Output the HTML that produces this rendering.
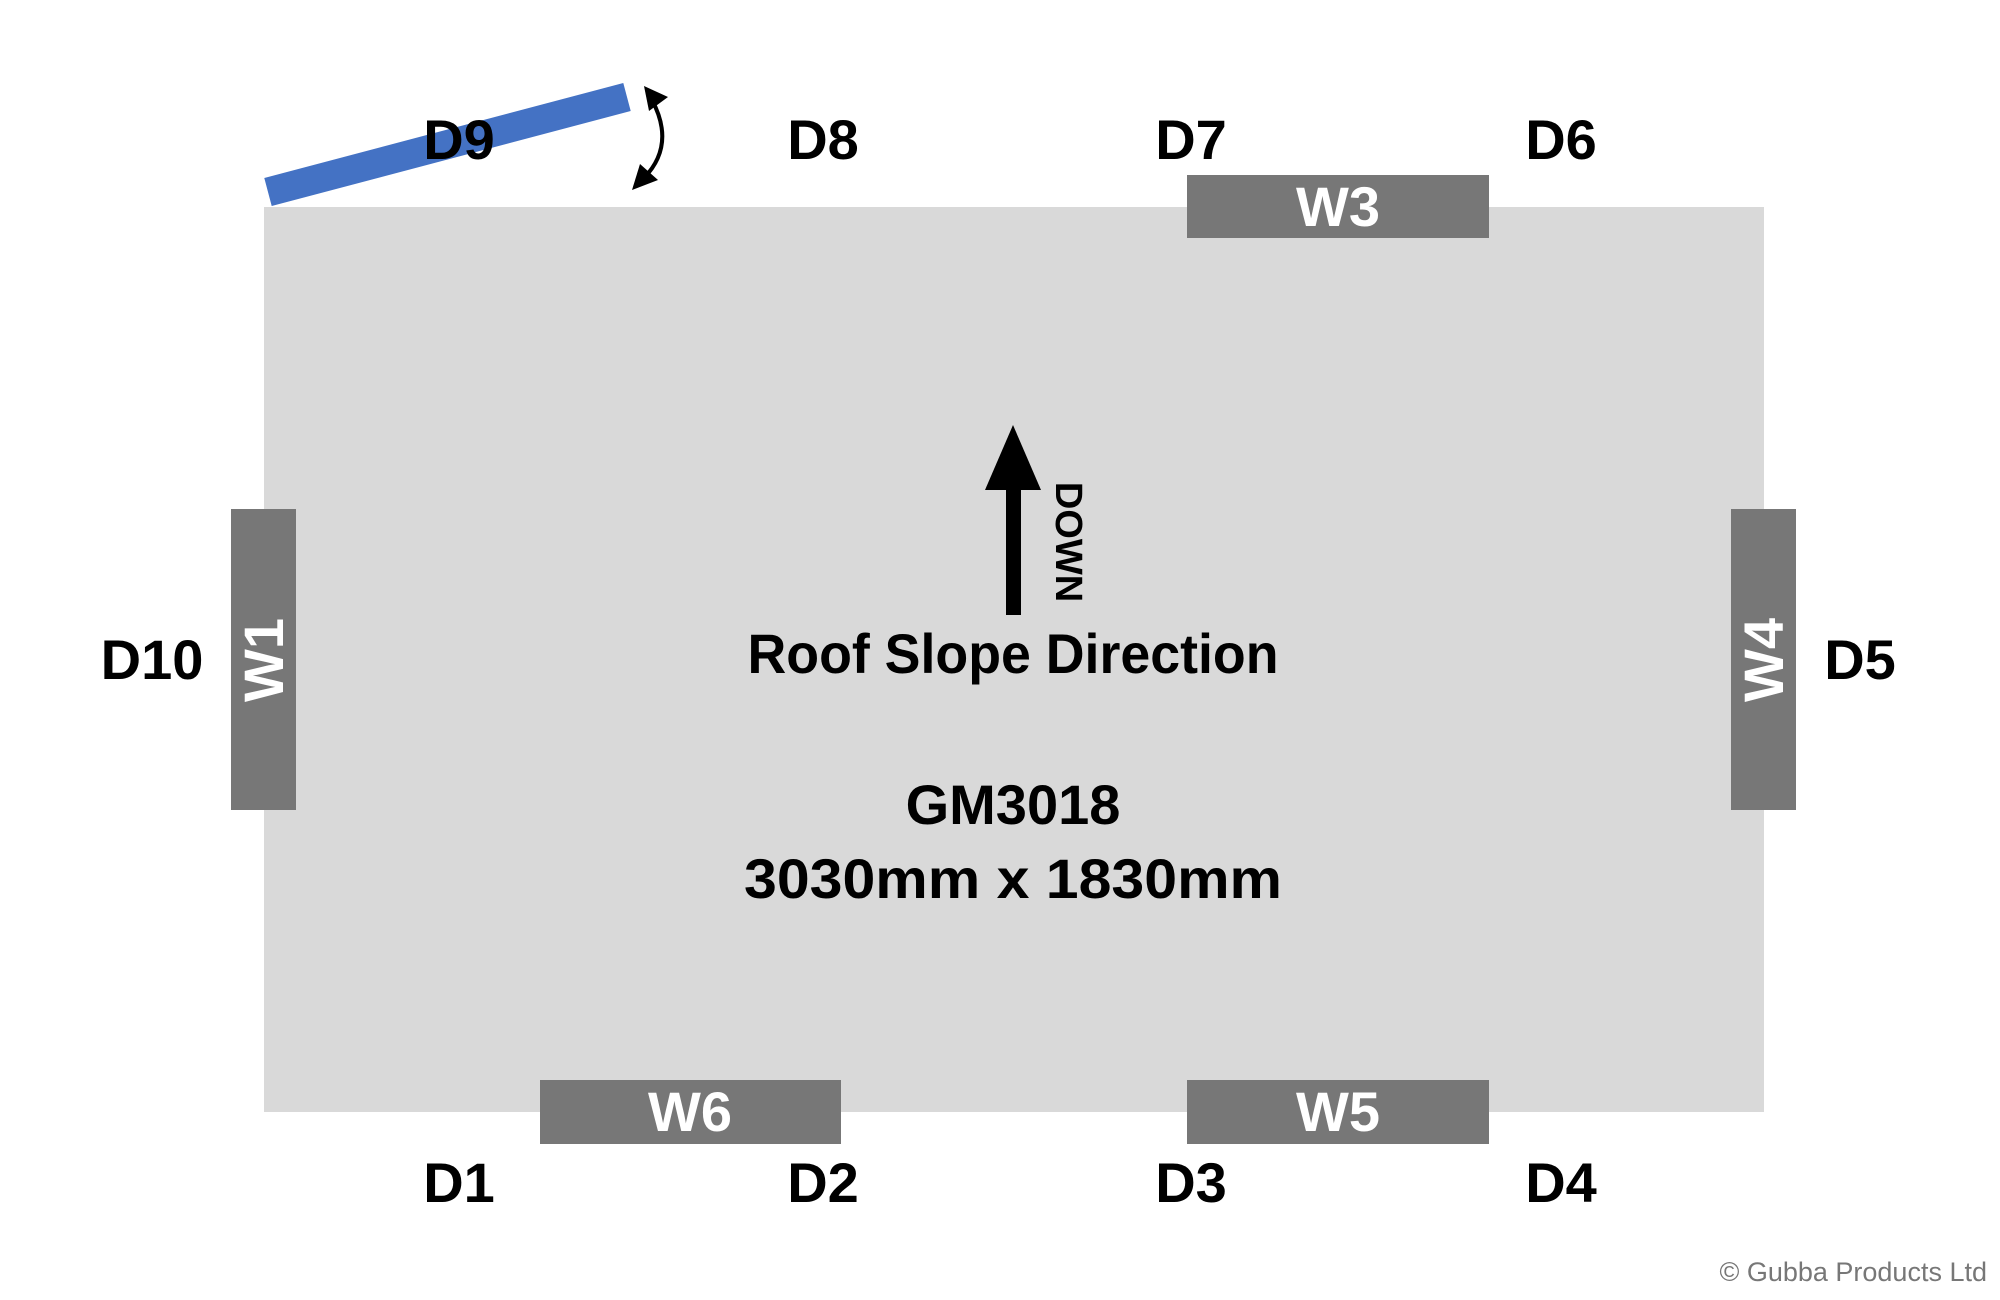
<!DOCTYPE html>
<html><head><style>
html,body{margin:0;padding:0;background:#fff;}
svg{display:block;}
text{font-family:"Liberation Sans",sans-serif;}
</style></head><body>
<svg width="2000" height="1300" viewBox="0 0 2000 1300" xmlns="http://www.w3.org/2000/svg">
<rect x="264" y="207" width="1500" height="905" fill="#d9d9d9"/>
<rect x="1187" y="175" width="302" height="63" fill="#777"/>
<rect x="540" y="1080" width="301" height="64" fill="#777"/>
<rect x="1187" y="1080" width="302" height="64" fill="#777"/>
<rect x="231" y="509" width="65" height="301" fill="#777"/>
<rect x="1731" y="509" width="65" height="301" fill="#777"/>
<g fill="#fff" font-size="56" font-weight="bold" text-anchor="middle">
<text x="1338" y="226">W3</text>
<text x="690" y="1131">W6</text>
<text x="1338" y="1131">W5</text>
<text transform="translate(283,660) rotate(-90)">W1</text>
<text transform="translate(1783,660) rotate(-90)">W4</text>
</g>
<line x1="268" y1="192" x2="627" y2="97" stroke="#4472c4" stroke-width="29"/>
<g font-size="56" font-weight="bold" text-anchor="middle" fill="#000">
<text x="459" y="159">D9</text>
<text x="823" y="159">D8</text>
<text x="1191" y="159">D7</text>
<text x="1561" y="159">D6</text>
<text x="459" y="1202">D1</text>
<text x="823" y="1202">D2</text>
<text x="1191" y="1202">D3</text>
<text x="1561" y="1202">D4</text>
<text x="152" y="679">D10</text>
<text x="1860" y="679">D5</text>
</g>
<path d="M652,100 Q676,145 644,178" fill="none" stroke="#000" stroke-width="4"/>
<polygon points="644,86 668,97 649,111" fill="#000"/>
<polygon points="632,190 658,180 640,164" fill="#000"/>
<rect x="1006" y="480" width="15" height="135" fill="#000"/>
<polygon points="1013,425 1041,490 985,490" fill="#000"/>
<text transform="translate(1056,542) rotate(90)" font-size="38" font-weight="bold" text-anchor="middle" fill="#000">DOWN</text>
<g font-size="56" font-weight="bold" text-anchor="middle" fill="#000">
<text x="1013" y="673" textLength="531" lengthAdjust="spacingAndGlyphs">Roof Slope Direction</text>
<text x="1013" y="824">GM3018</text>
<text x="1013" y="898" textLength="538" lengthAdjust="spacingAndGlyphs">3030mm x 1830mm</text>
</g>
<text x="1987" y="1281" font-size="27" fill="#777" text-anchor="end">© Gubba Products Ltd</text>
</svg>
</body></html>
